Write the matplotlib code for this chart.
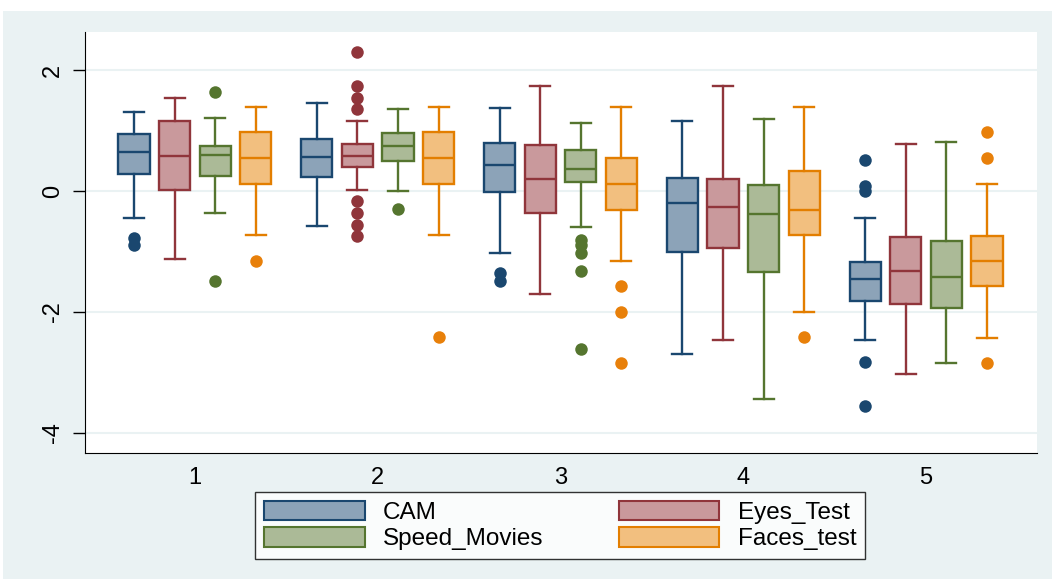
import numpy as np
import matplotlib.pyplot as plt
from matplotlib.patches import Patch, Rectangle

plt.rcParams['font.family'] = ['Liberation Sans', 'DejaVu Sans']

groups = [1, 2, 3, 4, 5]
series = ['CAM', 'Eyes_Test', 'Speed_Movies', 'Faces_test']

# five-number summaries, one list per series (groups 1..5)
whislo = {
    'CAM':          [-0.44, -0.58, -1.02, -2.69, -2.47],
    'Eyes_Test':    [-1.12, 0.02, -1.70, -2.46, -3.03],
    'Speed_Movies': [-0.36, 0.00, -0.60, -3.43, -2.84],
    'Faces_test':   [-0.73, -0.73, -1.15, -2.00, -2.43],
}
q1 = {
    'CAM':          [0.28, 0.23, -0.01, -1.01, -1.82],
    'Eyes_Test':    [0.015, 0.40, -0.36, -0.94, -1.87],
    'Speed_Movies': [0.24, 0.495, 0.15, -1.34, -1.93],
    'Faces_test':   [0.115, 0.115, -0.31, -0.72, -1.565],
}
med = {
    'CAM':          [0.645, 0.57, 0.43, -0.19, -1.46],
    'Eyes_Test':    [0.58, 0.58, 0.20, -0.265, -1.32],
    'Speed_Movies': [0.60, 0.74, 0.37, -0.375, -1.42],
    'Faces_test':   [0.55, 0.55, 0.115, -0.31, -1.16],
}
q3 = {
    'CAM':          [0.94, 0.865, 0.79, 0.215, -1.17],
    'Eyes_Test':    [1.16, 0.77, 0.765, 0.20, -0.755],
    'Speed_Movies': [0.74, 0.965, 0.67, 0.105, -0.83],
    'Faces_test':   [0.97, 0.97, 0.545, 0.33, -0.74],
}
whishi = {
    'CAM':          [1.31, 1.45, 1.37, 1.157, -0.45],
    'Eyes_Test':    [1.54, 1.16, 1.73, 1.73, 0.78],
    'Speed_Movies': [1.20, 1.35, 1.12, 1.195, 0.815],
    'Faces_test':   [1.39, 1.39, 1.39, 1.39, 0.12],
}
fliers = {
    'CAM':          [[-0.78, -0.89], [], [-1.36, -1.48], [], [0.51, 0.08, 0.005, -2.83, -3.55]],
    'Eyes_Test':    [[], [2.30, 1.735, 1.54, 1.35, -0.165, -0.37, -0.56, -0.74], [], [], []],
    'Speed_Movies': [[1.64, -1.48], [-0.29], [-0.81, -0.89, -1.03, -1.33, -2.61], [], []],
    'Faces_test':   [[-1.15], [-2.42], [-1.575, -2.0, -2.85], [-2.42], [0.975, 0.55, -2.85]],
}

edge = {'CAM': '#1A476F', 'Eyes_Test': '#90353B',
        'Speed_Movies': '#55752F', 'Faces_test': '#E37E00'}
fill = {'CAM': '#8CA3B8', 'Eyes_Test': '#C9999C',
        'Speed_Movies': '#ABBA97', 'Faces_test': '#F2BF7F'}
dot = {'CAM': '#1A476F', 'Eyes_Test': '#90353B',
       'Speed_Movies': '#55752F', 'Faces_test': '#E8800A'}

bg = '#EAF2F3'
fig = plt.figure(figsize=(10.52, 5.79), dpi=100, facecolor='white')
fig.patches.append(Rectangle((3 / 1052, 0), 1, 1 - 11 / 579, transform=fig.transFigure,
                             facecolor=bg, edgecolor='none', zorder=-10))
ax = fig.add_axes([85 / 1052, 1 - 453 / 579, (1037 - 85) / 1052, (453 - 32) / 579])
ax.set_facecolor('white')

offsets = [-0.333, -0.111, 0.111, 0.333]
bw = 0.17
for s, off in zip(series, offsets):
    stats = []
    for i in range(len(groups)):
        stats.append(dict(whislo=whislo[s][i], q1=q1[s][i], med=med[s][i],
                          q3=q3[s][i], whishi=whishi[s][i], fliers=fliers[s][i]))
    pos = [g + off for g in groups]
    lw = 1.7
    ax.bxp(stats, positions=pos, widths=bw, capwidths=0.11, patch_artist=True,
           showfliers=True,
           boxprops=dict(facecolor=fill[s], edgecolor=edge[s], linewidth=lw),
           medianprops=dict(color=edge[s], linewidth=lw),
           whiskerprops=dict(color=edge[s], linewidth=lw),
           capprops=dict(color=edge[s], linewidth=lw),
           flierprops=dict(marker='o', markerfacecolor=dot[s], markeredgecolor='none',
                           markersize=9))

ax.set_xlim(1 - 110 / 183, 5 + 111 / 183)
ax.set_ylim(-4.33, 2.628)
ax.set_xticks(groups)
ax.set_xticklabels([str(g) for g in groups])
ax.set_yticks([-4, -2, 0, 2])
ax.set_yticklabels(['-4', '-2', '0', '2'], rotation=90, va='center')
ax.tick_params(axis='x', length=0, pad=10, labelsize=17)
ax.tick_params(axis='y', length=9, width=1, pad=6, labelsize=17)
ax.yaxis.grid(True, color=bg, linewidth=1.5)
ax.set_axisbelow(True)
for sp in ['top', 'right']:
    ax.spines[sp].set_visible(False)
ax.spines['left'].set_color('black')
ax.spines['bottom'].set_color('black')

# legend filled column by column: CAM/Speed_Movies then Eyes_Test/Faces_test
order = ['CAM', 'Speed_Movies', 'Eyes_Test', 'Faces_test']
handles = [Patch(facecolor=fill[s], edgecolor=edge[s], linewidth=1.5) for s in order]
leg = fig.legend(handles, order, loc='upper center', ncol=2,
                 bbox_to_anchor=(560 / 1052, 1 - 492 / 579), borderaxespad=0,
                 fontsize=17.5, handlelength=4.15, handleheight=0.85,
                 handletextpad=0.75, columnspacing=3.1, labelspacing=0.15,
                 borderpad=0.35, fancybox=False, frameon=True)
leg.get_frame().set_edgecolor('black')
leg.get_frame().set_linewidth(1.0)
leg.get_frame().set_facecolor('white')

fig.savefig('out.png', dpi=100, facecolor=fig.get_facecolor())
